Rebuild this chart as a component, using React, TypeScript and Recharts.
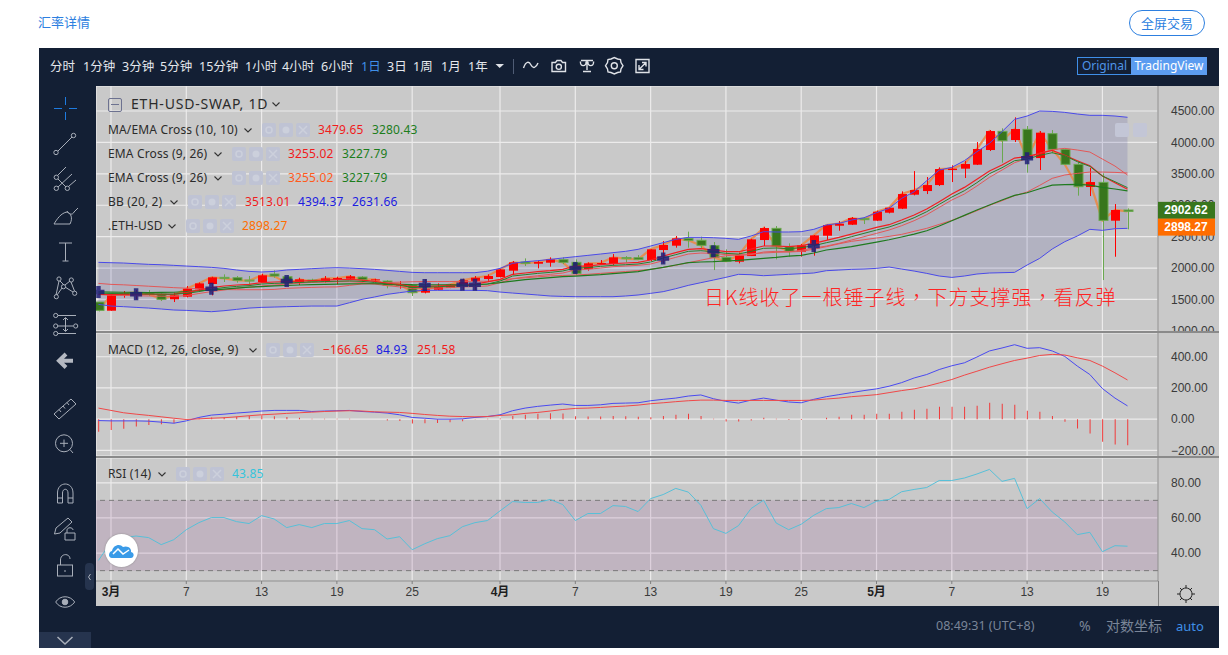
import React from "react";
import {
  Area,
  Bar,
  CartesianGrid,
  ComposedChart,
  Line,
  ReferenceArea,
  ReferenceDot,
  ReferenceLine,
  XAxis,
  YAxis,
} from "recharts";

// first candle sits one day before the "3月" tick
const firstIdx = -1;

const tickIdx = [0, 6, 12, 18, 24, 31, 37, 43, 49, 55, 61, 67, 73, 79];
const tickLabels = ["3月", "7", "13", "19", "25", "4月", "7", "13", "19", "25", "5月", "7", "13", "19"];

const opens = [
  1459, 1321, 1565, 1565, 1608, 1586, 1502, 1544, 1661, 1746,
  1852, 1846, 1809, 1778, 1905, 1862, 1767, 1809, 1788, 1820,
  1830, 1857, 1815, 1793, 1724, 1730, 1608, 1655, 1687, 1714,
  1793, 1825, 1857, 1958, 2096, 2069, 2085, 2133, 2091, 1985,
  2064, 2064, 2165, 2165, 2128, 2287, 2356, 2473, 2441, 2356,
  2170, 2101, 2191, 2446, 2632, 2340, 2260, 2367, 2515, 2674,
  2690, 2791, 2754, 2881, 2945, 3168, 3226, 3321, 3560, 3582,
  3645, 3879, 4176, 4038, 4208, 3751, 4139, 3889, 3651, 3290,
  3364, 2754, 2924,
];
const closes = [
  1326, 1565, 1597, 1608, 1586, 1502, 1565, 1671, 1756, 1852,
  1836, 1804, 1799, 1884, 1873, 1760, 1820, 1788, 1836, 1841,
  1868, 1815, 1820, 1724, 1746, 1608, 1661, 1698, 1735, 1804,
  1846, 1873, 1979, 2091, 2075, 2096, 2138, 2091, 1915, 2075,
  2080, 2170, 2149, 2138, 2298, 2367, 2473, 2441, 2361, 2170,
  2106, 2202, 2457, 2637, 2351, 2266, 2361, 2520, 2685, 2706,
  2796, 2770, 2897, 2961, 3178, 3242, 3321, 3576, 3582, 3656,
  3895, 4181, 4027, 4213, 3746, 4155, 3889, 3651, 3295, 3369,
  2759, 2924, 2902,
];
const highs = [
  1459, 1565, 1634, 1650, 1650, 1618, 1608, 1714, 1770, 1862,
  1900, 1873, 1873, 1910, 1963, 1885, 1846, 1830, 1873, 1862,
  1889, 1873, 1830, 1809, 1793, 1740, 1820, 1756, 1746, 1830,
  1873, 1900, 1985, 2112, 2154, 2112, 2170, 2170, 2138, 2090,
  2128, 2223, 2191, 2207, 2298, 2430, 2510, 2579, 2499, 2414,
  2298, 2245, 2467, 2658, 2669, 2393, 2382, 2526, 2695, 2748,
  2812, 2812, 2913, 2966, 3221, 3544, 3449, 3603, 3635, 3704,
  4006, 4197, 4224, 4399, 4261, 4181, 4197, 3895, 3693, 3592,
  3507, 3019, 2950,
];
const lows = [
  1310, 1321, 1528, 1502, 1555, 1475, 1459, 1533, 1650, 1565,
  1778, 1767, 1740, 1767, 1846, 1720, 1730, 1767, 1767, 1740,
  1809, 1767, 1800, 1677, 1671, 1555, 1597, 1650, 1680, 1650,
  1650, 1785, 1850, 1889, 2032, 1995, 2022, 2064, 1889, 1958,
  2048, 2048, 2091, 2128, 2112, 2075, 2324, 2324, 2314, 1968,
  2096, 2075, 2191, 2351, 2138, 2181, 2181, 2197, 2446, 2594,
  2685, 2701, 2748, 2870, 2939, 3157, 3178, 3306, 3369, 3433,
  3640, 3863, 3677, 4006, 3518, 3560, 3826, 3640, 3152, 3146,
  1809, 2180, 2616,
];

const bbUpper = [
  2091, 2085, 2080, 2069, 2059, 2053, 2043, 2032, 2022, 2011,
  1995, 1969, 1947, 1937, 1947, 1969, 1979, 1990, 2000, 2006,
  2000, 1990, 1979, 1963, 1947, 1931, 1926, 1926, 1926, 1926,
  1926, 1950, 1995, 2075, 2101, 2117, 2138, 2160, 2181, 2202,
  2223, 2245, 2266, 2298, 2351, 2404, 2457, 2489, 2489, 2483,
  2473, 2457, 2510, 2579, 2574, 2574, 2579, 2616, 2685, 2711,
  2764, 2801, 2881, 2950, 3109, 3215, 3390, 3560, 3603, 3709,
  3852, 3985, 4171, 4367, 4420, 4500, 4494, 4478, 4452, 4431,
  4431, 4420, 4400,
];
const bbLower = [
  1422, 1395, 1385, 1374, 1363, 1348, 1332, 1326, 1316, 1305,
  1321, 1342, 1363, 1374, 1379, 1385, 1390, 1395, 1395, 1395,
  1448, 1502, 1539, 1581, 1608, 1634, 1645, 1645, 1645, 1645,
  1645, 1640, 1618, 1602, 1587, 1571, 1555, 1549, 1544, 1544,
  1544, 1544, 1555, 1571, 1597, 1624, 1671, 1724, 1767, 1809,
  1852, 1900, 1894, 1878, 1889, 1900, 1910, 1921, 1958, 1968,
  1979, 1984, 1995, 2016, 1984, 1952, 1915, 1873, 1851, 1873,
  1905, 1921, 1926, 1931, 2048, 2154, 2303, 2419, 2510, 2616,
  2600, 2626, 2632,
];
const bbBasis = [
  1756, 1740, 1733, 1722, 1711, 1700, 1688, 1679, 1669, 1658,
  1658, 1655, 1655, 1655, 1660, 1677, 1685, 1692, 1698, 1700,
  1724, 1746, 1750, 1770, 1775, 1782, 1785, 1785, 1785, 1788,
  1790, 1790, 1810, 1830, 1845, 1860, 1875, 1882, 1889, 1900,
  1915, 1930, 1945, 1960, 1979, 2010, 2045, 2085, 2125, 2165,
  2195, 2215, 2225, 2240, 2250, 2255, 2265, 2300, 2340, 2385,
  2425, 2451, 2478, 2504, 2536, 2584, 2632, 2695, 2759, 2833,
  2913, 2998, 3072, 3152, 3210, 3316, 3428, 3481, 3507, 3528,
  3528, 3523, 3513,
];
const emaFast = [
  1581, 1576, 1581, 1586, 1586, 1581, 1586, 1608, 1650, 1687,
  1714, 1730, 1740, 1767, 1778, 1783, 1793, 1799, 1809, 1815,
  1820, 1809, 1788, 1756, 1735, 1703, 1703, 1714, 1720, 1730,
  1745, 1780, 1820, 1900, 1921, 1942, 1958, 1979, 2032, 2032,
  2053, 2069, 2080, 2091, 2128, 2191, 2245, 2298, 2308, 2287,
  2260, 2260, 2303, 2351, 2351, 2340, 2356, 2393, 2441, 2488,
  2541, 2594, 2647, 2690, 2764, 2844, 2939, 3056, 3178, 3284,
  3412, 3544, 3640, 3751, 3773, 3826, 3873, 3794, 3709, 3629,
  3465, 3359, 3255,
];
const emaTen = [
  1600, 1595, 1592, 1590, 1588, 1586, 1585, 1595, 1625, 1660,
  1690, 1708, 1720, 1745, 1756, 1762, 1770, 1778, 1785, 1790,
  1795, 1788, 1770, 1745, 1725, 1692, 1695, 1702, 1712, 1720,
  1728, 1745, 1793, 1873, 1894, 1915, 1931, 1953, 2000, 2006,
  2027, 2043, 2053, 2064, 2096, 2160, 2213, 2266, 2276, 2260,
  2234, 2223, 2266, 2314, 2319, 2308, 2324, 2356, 2403, 2446,
  2499, 2552, 2605, 2653, 2722, 2801, 2897, 3014, 3130, 3231,
  3359, 3502, 3597, 3709, 3735, 3794, 3836, 3789, 3693, 3619,
  3465, 3375, 3280,
];
const maTen = [
  1580, 1570, 1565, 1560, 1555, 1552, 1550, 1560, 1595, 1625,
  1650, 1680, 1695, 1715, 1730, 1745, 1760, 1770, 1775, 1780,
  1782, 1770, 1745, 1720, 1700, 1670, 1675, 1680, 1690, 1700,
  1705, 1715, 1767, 1830, 1857, 1878, 1900, 1921, 1969, 1979,
  2000, 2022, 2032, 2043, 2064, 2117, 2170, 2223, 2239, 2234,
  2213, 2202, 2213, 2255, 2266, 2260, 2282, 2319, 2350, 2393,
  2446, 2499, 2552, 2605, 2674, 2754, 2849, 2966, 3083, 3178,
  3306, 3444, 3560, 3677, 3746, 3826, 3884, 3905, 3879, 3847,
  3735, 3624, 3480,
];
const emaSlow = [
  1620, 1618, 1615, 1612, 1610, 1612, 1615, 1625, 1640, 1650,
  1665, 1680, 1695, 1705, 1715, 1722, 1730, 1735, 1740, 1745,
  1748, 1750, 1750, 1745, 1742, 1735, 1733, 1732, 1733, 1735,
  1738, 1746, 1767, 1793, 1815, 1831, 1847, 1862, 1873, 1884,
  1894, 1910, 1926, 1942, 1979, 2011, 2048, 2085, 2096, 2101,
  2112, 2122, 2138, 2154, 2170, 2191, 2202, 2239, 2287, 2313,
  2340, 2377, 2414, 2451, 2494, 2541, 2594, 2669, 2754, 2839,
  2923, 3003, 3083, 3157, 3199, 3263, 3321, 3327, 3332, 3321,
  3284, 3258, 3228,
];

// EMA cross markers
const crossIdx = [-1, 2, 8, 14, 25, 28, 29, 37, 44, 48, 56, 73];
const crossPrice = [1618, 1581, 1671, 1793, 1730, 1735, 1735, 2000, 2154, 2266, 2350, 3746];

const macdLine = [
  -9, -11, -11, -11, -13, -19, -26, -11, 11, 26,
  32, 39, 45, 52, 56, 56, 56, 49, 52, 54,
  56, 49, 45, 39, 28, 11, 6, 0, 0, 2,
  11, 17, 28, 54, 71, 82, 90, 97, 88, 88,
  92, 101, 103, 105, 118, 127, 135, 148, 155, 131,
  114, 103, 122, 135, 122, 110, 105, 127, 144, 157,
  170, 183, 194, 211, 234, 264, 286, 318, 342, 361,
  398, 437, 456, 477, 454, 458, 437, 402, 340, 286,
  196, 135, 85,
];
const signalLine = [
  71, 56, 41, 32, 24, 15, 6, -2, 2, 6,
  9, 15, 22, 28, 32, 37, 41, 45, 49, 52,
  54, 52, 47, 45, 43, 37, 30, 24, 19, 17,
  15, 17, 24, 28, 37, 43, 52, 62, 69, 71,
  75, 80, 84, 90, 99, 105, 112, 118, 122, 122,
  120, 120, 120, 120, 120, 120, 120, 122, 129, 135,
  144, 150, 157, 170, 183, 194, 211, 232, 254, 282,
  307, 333, 355, 376, 391, 408, 415, 411, 393, 376,
  340, 297, 251,
];
const histogram = [
  -80, -69, -62, -47, -37, -32, -26, -2, 6, 10,
  13, 17, 21, 25, 19, 14, 9, 3, 2, 2,
  2, 0, 0, -9, -11, -28, -26, -24, -19, -13,
  -2, 2, 4, 21, 28, 34, 38, 36, 19, 17,
  17, 21, 19, 15, 13, 21, 28, 34, 21, 2,
  -15, -15, -9, 9, 2, -6, -6, 0, 9, 15,
  28, 28, 34, 34, 47, 60, 67, 80, 80, 80,
  86, 105, 99, 92, 54, 47, 21, -17, -60, -92,
  -144, -163, -167,
];

const rsiValues = [
  35.8, 46.3, 48.8, 49.7, 48.8, 44.8, 47.6, 53.3, 57.3, 60.2,
  60.2, 57.9, 56.8, 61.3, 59.4, 54.5, 56.2, 54.5, 56.8, 56.8,
  58.5, 53.9, 53.3, 48, 49.3, 41.9, 45.3, 48.2, 49.9, 55,
  57.3, 58.5, 64, 69.3, 68.8, 68.8, 70.5, 67.6, 58.5, 62.5,
  62.5, 67, 66.5, 63.6, 71, 73.3, 76.8, 74.7, 67.2, 53.9,
  51.2, 55.6, 65.3, 70.1, 57.1, 53.3, 56.4, 61.5, 65.3, 65.9,
  68.2, 65.9, 69.5, 70.5, 74.9, 76.2, 77.3, 81.3, 81.3, 82.7,
  85, 87.6, 80.8, 82.5, 65.3, 71, 63.4, 57.7, 50.5, 51.8,
  40.8, 44.2, 43.9,
];

const priceTicks = [1000, 1500, 2000, 2500, 3000, 3500, 4000, 4500];
const macdTicks = [-200, 0, 200, 400];
const rsiTicks = [40, 60, 80];

const toolbarLabels = ["分时", "1分钟", "3分钟", "5分钟", "15分钟", "1小时", "4小时", "6小时", "1日", "3日", "1周", "1月", "1年"];
const toolbarLefts = [50, 83, 122, 160, 199, 245, 282, 321, 361, 387, 413, 441, 468];

const rows = opens.map((open, i) => ({
  idx: i + firstIdx,
  open,
  close: closes[i],
  high: highs[i],
  low: lows[i],
  range: [lows[i], highs[i]],
  band: [bbLower[i], bbUpper[i]],
  bbUpper: bbUpper[i],
  bbLower: bbLower[i],
  bbBasis: bbBasis[i],
  emaFast: emaFast[i],
  emaTen: emaTen[i],
  maTen: maTen[i],
  emaSlow: emaSlow[i],
  cross: crossIdx.includes(i + firstIdx) ? crossPrice[crossIdx.indexOf(i + firstIdx)] : null,
  macd: macdLine[i],
  signal: signalLine[i],
  hist: histogram[i],
  rsi: rsiValues[i],
}));

const GRID = "#ecebeb";
const AXIS = "#7f7f7f";
const XDOMAIN: [number, number] = [-1.195, 83.43];
const PRICE_DOMAIN: [number, number] = [982, 4898];
const axisFont = { fontFamily: "Liberation Sans, Arial, sans-serif", fontSize: 12, fill: "#3a3a3a" };
const uiFont = "'Noto Sans', 'Noto Sans CJK SC', sans-serif";
const thin = { dot: false, activeDot: false, isAnimationActive: false, type: "linear" as const, strokeWidth: 1 };

const Candle = (props: any) => {
  const { x, y, width, height, payload } = props;
  const span = payload.high - payload.low || 1;
  const toY = (v: number) => y + ((payload.high - v) / span) * height;
  const up = payload.close >= payload.open;
  const top = toY(Math.max(payload.open, payload.close));
  const bottom = toY(Math.min(payload.open, payload.close));
  const cx = Math.round(x + width / 2);
  const wick = up ? "#ff0000" : "#6aa84f";
  return (
    <g>
      <line x1={cx + 0.5} x2={cx + 0.5} y1={y} y2={y + height} stroke={wick} />
      <rect
        x={cx - 4}
        y={top}
        width={9}
        height={Math.max(bottom - top, 1)}
        fill={up ? "#ff0000" : "#38761d"}
        stroke={up ? "#ff0000" : "#6aa84f"}
        strokeWidth={up ? 0 : 1}
      />
    </g>
  );
};

const CrossDot = (props: any) => {
  const { cx, cy, value, index } = props;
  if (value == null || cy == null) return <g key={index} />;
  return (
    <path
      key={index}
      d={`M${cx - 6} ${cy}H${cx + 6}M${cx} ${cy - 6}V${cy + 6}`}
      stroke="#1f1f78"
      strokeOpacity={0.85}
      strokeWidth={4.5}
      fill="none"
    />
  );
};

const PriceTag = (props: any) => {
  const { cx, cy, fill, text, shift } = props;
  return (
    <g>
      <rect x={cx} y={cy + shift - 8.5} width={57} height={17} fill={fill} />
      <text
        x={cx + 28}
        y={cy + shift + 4}
        textAnchor="middle"
        fontFamily="Liberation Sans, Arial, sans-serif"
        fontSize={12}
        fontWeight={700}
        fill="#ffffff"
      >
        {text}
      </text>
    </g>
  );
};

const TimeTick = (props: any) => {
  const { x, y, payload } = props;
  const label = tickLabels[tickIdx.indexOf(payload.value)];
  const month = label.includes("月");
  return (
    <text
      x={x}
      y={y + 10}
      textAnchor="middle"
      fontFamily="'Liberation Sans', 'Noto Sans CJK SC', sans-serif"
      fontSize={12}
      fontWeight={month ? 700 : 400}
      fill={month ? "#1e1e1e" : "#3a3a3a"}
    >
      {label}
    </text>
  );
};

const Faint = ({ left, top }: { left: number; top: number }) => (
  <svg width={48} height={14} style={{ position: "absolute", left, top }}>
    {[0, 17, 34].map((d) => (
      <rect key={d} x={d} width={14} height={14} rx={2} fill="#bfc3d4" />
    ))}
    <circle cx={7} cy={7} r={3} fill="none" stroke="#ccd0dc" strokeWidth={1.5} />
    <circle cx={24} cy={7} r={3.5} fill="#ccd0dc" />
    <path d="M37 3L45 11M45 3L37 11" stroke="#ccd0dc" strokeWidth={1.5} />
  </svg>
);

const T = ({ left, top, color = "#2b2b2b", size = 12, children, extra }: any) => (
  <div
    style={{
      position: "absolute",
      left,
      top,
      color,
      fontSize: size,
      lineHeight: "16px",
      whiteSpace: "nowrap",
      fontFamily: uiFont,
      ...extra,
    }}
  >
    {children}
  </div>
);

const Chev = ({ left, top }: { left: number; top: number }) => (
  <svg width={8} height={5} style={{ position: "absolute", left, top }}>
    <path d="M0.5 0.5L4 4L7.5 0.5" fill="none" stroke="#333333" strokeWidth={1.1} />
  </svg>
);

const spaced = { letterSpacing: 0.15 };

const Legends = () => (
  <>
    <div style={{ position: "absolute", left: 108, top: 98, width: 12, height: 12, border: "1px solid #6d7290", borderRadius: 2 }}>
      <div style={{ margin: "5px 2px", height: 1, background: "#6d7290" }} />
    </div>
    <T left={131} top={96} size={14} extra={{ letterSpacing: 0.8 }}>ETH-USD-SWAP, 1D</T>
    <Chev left={272} top={102} />

    <T left={108} top={122} extra={spaced}>MA/EMA Cross (10, 10)</T>
    <Chev left={244} top={128} />
    <Faint left={262} top={123} />
    <T left={318} top={122} color="#f01c1c" extra={spaced}>3479.65</T>
    <T left={372} top={122} color="#1c7d1c" extra={spaced}>3280.43</T>

    <T left={108} top={146} extra={spaced}>EMA Cross (9, 26)</T>
    <Chev left={214} top={152} />
    <Faint left={232} top={147} />
    <T left={288} top={146} color="#f01c1c" extra={spaced}>3255.02</T>
    <T left={342} top={146} color="#1c7d1c" extra={spaced}>3227.79</T>

    <T left={108} top={170} extra={spaced}>EMA Cross (9, 26)</T>
    <Chev left={214} top={176} />
    <Faint left={232} top={171} />
    <T left={288} top={170} color="#ff5a1c" extra={spaced}>3255.02</T>
    <T left={342} top={170} color="#1c7d1c" extra={spaced}>3227.79</T>

    <T left={108} top={194} extra={spaced}>BB (20, 2)</T>
    <Chev left={170} top={200} />
    <Faint left={188} top={195} />
    <T left={245} top={194} color="#f01c1c" extra={spaced}>3513.01</T>
    <T left={298} top={194} color="#2020e0" extra={spaced}>4394.37</T>
    <T left={352} top={194} color="#2020e0" extra={spaced}>2631.66</T>

    <T left={108} top={218} extra={spaced}>.ETH-USD</T>
    <Chev left={168} top={224} />
    <Faint left={186} top={219} />
    <T left={242} top={218} color="#ff6d00" extra={spaced}>2898.27</T>

    <T left={108} top={342} extra={spaced}>MACD (12, 26, close, 9)</T>
    <Chev left={249} top={348} />
    <Faint left={266} top={343} />
    <T left={323} top={342} color="#f01c1c" extra={spaced}>−166.65</T>
    <T left={376} top={342} color="#2020e0" extra={spaced}>84.93</T>
    <T left={417} top={342} color="#f01c1c" extra={spaced}>251.58</T>

    <T left={108} top={466} extra={spaced}>RSI (14)</T>
    <Chev left={158} top={472} />
    <Faint left={176} top={467} />
    <T left={232} top={466} color="#35c4dc" extra={spaced}>43.85</T>

    <div style={{ position: "absolute", left: 1115, top: 123, width: 14, height: 14, background: "#c3c6d6", borderRadius: 2 }} />
    <div style={{ position: "absolute", left: 1133, top: 123, width: 14, height: 14, background: "#c3c6d6", borderRadius: 2 }} />

    <T
      left={704}
      top={285}
      size={20}
      color="#ff2424"
      extra={{ letterSpacing: 1, lineHeight: "24px", fontFamily: "'Noto Sans CJK SC', sans-serif", fontWeight: 300 }}
    >
      日K线收了一根锤子线<span style={{ fontFamily: "'Noto Sans CJK TC', sans-serif" }}>，</span>下方支撑强
      <span style={{ fontFamily: "'Noto Sans CJK TC', sans-serif" }}>，</span>看反弹
    </T>
  </>
);

// toolbar and drawing-tool glyphs, all of it page furniture
const Chrome = () => (
  <svg width={1228} height={655} style={{ position: "absolute", left: 0, top: 0 }} fill="none" stroke="#a9afba" strokeWidth={1}>
    <path d="M54 108.5H62M69 108.5H77M65.5 97V105M65.5 112V120" stroke="#1e7be0" />

    <path d="M58 151L72 137" />
    <circle cx={56} cy={152.5} r={2.2} />
    <circle cx={73.5} cy={135.5} r={2.2} />

    <path d="M58 175L66 167M58 187L72 174M69 186L76 180M58 179L66 187" />
    <circle cx={56.3} cy={177.3} r={2.2} />
    <circle cx={56.3} cy={188.3} r={2.2} />
    <circle cx={67.3} cy={188.3} r={2.2} />

    <path d="M54 224H70C73 218 71 213 67 212C61 213 57 219 54 224ZM67 211C69 215 73 215 74 212L78 208" />

    <path d="M59 243H72M65.5 243V261M62.5 261H68.5" />

    <path d="M59 281L56 295M71 282L74.5 291M60 281L64 285M70 281L65 285M62 288L57 295M65 287L73 292" />
    <circle cx={59} cy={279} r={2.1} />
    <circle cx={71.3} cy={280} r={2.1} />
    <circle cx={63.5} cy={286.7} r={2.1} />
    <circle cx={56.3} cy={296.7} r={2.1} />
    <circle cx={74.7} cy={293.3} r={2.1} />

    <path d="M58 315.5H76M58 326H73M58 333.5H76M65.5 318V331M63 320L65.5 317.5L68 320M63 329L65.5 331.5L68 329" />
    <circle cx={55.7} cy={315.5} r={2.1} />
    <circle cx={55.7} cy={326} r={2.1} />
    <circle cx={75.7} cy={326} r={2.1} />
    <circle cx={55.7} cy={333.5} r={2.1} />

    <path d="M73 360.7H60M66 354L59 360.7L66 367.5" stroke="#b4b8c1" strokeWidth={4} />

    <path d="M54 414L71 399L76 404L59 419ZM59 409.5L61 412M63 406L65 408.5M67 402.5L69 405" />

    <circle cx={64} cy={443.3} r={8.5} />
    <path d="M70 449.5L73 453M60 443.3H68M64 439.5V447" />

    <path d="M57.5 503V493C57.5 481 73 481 73 493V503H68V493C68 488 62.5 488 62.5 493V503ZM57.5 498H62.5M68 498H73" />

    <path d="M54.5 534L56 528L68 518L72 522L60 533ZM65 540H75V533H65ZM67 533V530C67 527 73 527 73 530" />

    <rect x={57.5} y={565} width={15} height={11} />
    <path d="M60.5 565V560C60.5 553 70 553 70 559M65 570V572" />

    <path d="M55.7 602C60 595 70 595 74.7 602C70 609 60 609 55.7 602Z" />
    <circle cx={65} cy={602} r={2.8} fill="#a9afba" />

    <path d="M57.5 637L65 644L72.5 637" strokeWidth={1.5} />
    <path d="M90.5 574L88.5 577L90.5 580" />

    <g stroke="#dfe2e7" strokeWidth={1.4}>
      <path d="M523.5 68C526 61 529 61 531 65C533 69 536 68 538 63" />
      <path d="M552 62.5H555.5L557 60.5H561L562.5 62.5H565.5V71.5H552Z" />
      <circle cx={558.8} cy={66.8} r={2.6} />
      <path d="M581 60.5H593M587 60V70M583 71.5H591M580.5 61.5C579.5 67 587 67 586 61.5M588 61.5C587 67 594.5 67 593.5 61.5" />
      <circle cx={614.3} cy={65.7} r={3} />
      <path d="M611 59L614.3 57.5L617.6 59L620.5 59.5L621 62.5L623 65.7L621 69L620.5 72L617.6 72.5L614.3 74L611 72.5L608 72L607.5 69L605.5 65.7L607.5 62.5L608 59.5Z" />
      <path d="M636 59.5H649V72.5H636ZM639.5 69L645.5 63M642 62.5H646V66.5M639 65V69.5H643.5" />
    </g>
    <path d="M513.5 59V74" stroke="#4f5c75" />
    <path d="M495.5 64H504L499.7 68Z" fill="#dfe2e7" stroke="none" />
    <path d="M1186 588A6 6 0 1 0 1186.01 588M1186 585V588M1186 600V603M1177 594H1180M1192 594H1195M1180 588L1182 590M1190 598L1192 600M1192 588L1190 590M1182 598L1180 600" stroke="#222222" />
  </svg>
);

export default function App() {
  return (
    <div style={{ position: "absolute", left: 0, top: 0, width: 1228, height: 655, background: "#ffffff", overflow: "hidden" }}>
      <T left={38} top={14} size={13} color="#2d7fe0">汇率详情</T>
      <div
        style={{
          position: "absolute",
          left: 1129,
          top: 10,
          width: 74,
          height: 24,
          border: "1px solid #2d7fe0",
          borderRadius: 13,
          color: "#2d7fe0",
          fontSize: 13,
          lineHeight: "24px",
          textAlign: "center",
          fontFamily: uiFont,
        }}
      >
        全屏交易
      </div>

      <div style={{ position: "absolute", left: 39, top: 48, width: 1180, height: 600, background: "#131f34" }} />
      <div style={{ position: "absolute", left: 96, top: 86, width: 1123, height: 520, background: "#c9c9c9" }} />

      {toolbarLabels.map((label, i) => (
        <T key={i} left={toolbarLefts[i]} top={59} color={label === "1日" ? "#3f8fe8" : "#e4e7ec"} size={12.5}>
          {label}
        </T>
      ))}
      <div
        style={{
          position: "absolute",
          left: 1077,
          top: 57,
          width: 53,
          height: 16,
          border: "1px solid #3f8fe8",
          color: "#4f94e8",
          fontSize: 12,
          lineHeight: "16px",
          textAlign: "center",
          fontFamily: uiFont,
        }}
      >
        Original
      </div>
      <div
        style={{
          position: "absolute",
          left: 1131,
          top: 57,
          width: 76,
          height: 18,
          background: "#5b9cf0",
          color: "#ffffff",
          fontSize: 12,
          lineHeight: "18px",
          textAlign: "center",
          fontFamily: uiFont,
        }}
      >
        TradingView
      </div>

      <div style={{ position: "absolute", left: 39, top: 632, width: 52, height: 16, background: "#26344e" }} />
      <div style={{ position: "absolute", left: 85, top: 563, width: 9, height: 27, background: "#26344e", borderRadius: 4 }} />

      <T left={936} top={618} color="#7a8598" size={12.5}>08:49:31 (UTC+8)</T>
      <T left={1079} top={618} color="#7a8598" size={14}>%</T>
      <T left={1106} top={618} color="#7a8598" size={14}>对数坐标</T>
      <T left={1176} top={618} color="#3f8fe8" size={13}>auto</T>

      {/* price pane */}
      <div style={{ position: "absolute", left: 96, top: 86 }}>
        <ComposedChart width={1123} height={246} data={rows} margin={{ top: 0, right: 0, bottom: 0, left: 0 }}>
          <CartesianGrid stroke={GRID} strokeWidth={1.2} />
          <XAxis dataKey="idx" type="number" domain={XDOMAIN} ticks={tickIdx} allowDataOverflow hide />
          <YAxis
            orientation="right"
            width={61}
            type="number"
            domain={PRICE_DOMAIN}
            allowDataOverflow
            ticks={priceTicks}
            interval={0}
            tick={axisFont}
            tickLine={false}
            axisLine={{ stroke: AXIS }}
            tickMargin={7}
            tickFormatter={(v: number) => v.toFixed(2)}
          />
          <Area dataKey="band" stroke="none" fill="#3c3c99" fillOpacity={0.16} dot={false} activeDot={false} isAnimationActive={false} type="linear" />
          <Area dataKey="close" stroke="#ea8a48" strokeWidth={2.2} strokeOpacity={0.9} fill="none" dot={false} activeDot={false} isAnimationActive={false} type="linear" />
          <Line dataKey="bbUpper" stroke="#4a4ae8" {...thin} />
          <Line dataKey="bbLower" stroke="#4a4ae8" {...thin} />
          <Bar dataKey="range" shape={Candle} barSize={9} isAnimationActive={false} />
          <Line dataKey="bbBasis" stroke="#e25858" {...thin} />
          <Line dataKey="maTen" stroke="#e25858" {...thin} />
          <Line dataKey="emaSlow" stroke="#1f7a1f" {...thin} strokeWidth={1.2} />
          <Line dataKey="emaFast" stroke="#f02020" {...thin} strokeWidth={1.2} />
          <Line dataKey="emaTen" stroke="#2a7d2a" {...thin} />
          <Line dataKey="cross" stroke="none" isAnimationActive={false} activeDot={false} dot={CrossDot} />
        </ComposedChart>
      </div>
      <div style={{ position: "absolute", left: 96, top: 331, width: 1123, height: 2, background: "#8a8a8a" }} />

      {/* macd pane */}
      <div style={{ position: "absolute", left: 96, top: 333, background: "#c9c9c9", height: 123 }}>
        <ComposedChart width={1123} height={123} data={rows} margin={{ top: 0, right: 0, bottom: 0, left: 0 }}>
          <CartesianGrid stroke={GRID} strokeWidth={1.2} />
          <XAxis dataKey="idx" type="number" domain={XDOMAIN} ticks={tickIdx} allowDataOverflow hide />
          <YAxis
            orientation="right"
            width={61}
            type="number"
            domain={[-236, 552]}
            allowDataOverflow
            ticks={macdTicks}
            interval={0}
            tick={axisFont}
            tickLine={false}
            axisLine={{ stroke: AXIS }}
            tickMargin={7}
            tickFormatter={(v: number) => (v < 0 ? "−" + Math.abs(v).toFixed(2) : v.toFixed(2))}
          />
          <Bar dataKey="hist" fill="#f03a3a" barSize={1} isAnimationActive={false} />
          <Line dataKey="macd" stroke="#4a4af0" {...thin} />
          <Line dataKey="signal" stroke="#f04848" {...thin} />
        </ComposedChart>
      </div>
      <div style={{ position: "absolute", left: 96, top: 456, width: 1123, height: 2, background: "#8a8a8a" }} />

      {/* rsi pane with the time axis */}
      <div style={{ position: "absolute", left: 96, top: 458 }}>
        <ComposedChart width={1123} height={148} data={rows} margin={{ top: 0, right: 0, bottom: 0, left: 0 }}>
          <CartesianGrid stroke={GRID} strokeWidth={1.2} />
          <XAxis
            dataKey="idx"
            type="number"
            domain={XDOMAIN}
            ticks={tickIdx}
            allowDataOverflow
            height={25}
            tick={<TimeTick />}
            tickSize={3}
            stroke={AXIS}
            interval={0}
          />
          <YAxis
            orientation="right"
            width={61}
            type="number"
            domain={[24.1, 94.1]}
            allowDataOverflow
            ticks={rsiTicks}
            interval={0}
            tick={axisFont}
            tickLine={false}
            axisLine={{ stroke: AXIS }}
            tickMargin={7}
            tickFormatter={(v: number) => v.toFixed(2)}
          />
          <ReferenceArea y1={30} y2={70} fill="#8d3c8d" fillOpacity={0.15} stroke="none" />
          <ReferenceLine y={70} stroke="#7a7a7a" strokeDasharray="5 4" />
          <ReferenceLine y={30} stroke="#7a7a7a" strokeDasharray="5 4" />
          <Line dataKey="rsi" stroke="#58c0d8" {...thin} />
        </ComposedChart>
      </div>
      <div style={{ position: "absolute", left: 1158, top: 581, width: 1, height: 25, background: AXIS }} />

      {/* last-price tags, a second chart on the same scales so they cover the axis labels */}
      <div style={{ position: "absolute", left: 96, top: 86 }}>
        <ComposedChart width={1123} height={246} data={rows} margin={{ top: 0, right: 0, bottom: 0, left: 0 }}>
          <XAxis dataKey="idx" type="number" domain={XDOMAIN} allowDataOverflow hide />
          <YAxis orientation="right" width={61} type="number" domain={PRICE_DOMAIN} allowDataOverflow tick={false} axisLine={false} tickLine={false} />
          <ReferenceDot
            x={XDOMAIN[1]}
            y={2902.62}
            ifOverflow="visible"
            shape={(p: any) => <PriceTag {...p} fill="#38761d" text="2902.62" shift={-1} />}
          />
          <ReferenceDot
            x={XDOMAIN[1]}
            y={2898.27}
            ifOverflow="visible"
            shape={(p: any) => <PriceTag {...p} fill="#ff6d00" text="2898.27" shift={15.5} />}
          />
        </ComposedChart>
      </div>

      <div
        style={{
          position: "absolute",
          left: 105,
          top: 534,
          width: 33,
          height: 33,
          borderRadius: 17,
          background: "#ffffff",
          boxShadow: "0 0 2px #888888",
        }}
      >
        <svg width={33} height={33}>
          <path d="M7 24C3 24 3 18 7 17C8 11 15 9 18 13C23 11 27 15 26 18C30 19 29 24 26 24Z" fill="#3a9be8" />
          <path d="M8 20L13 15L18 20L24 16" stroke="#ffffff" strokeWidth={1.5} fill="none" />
        </svg>
      </div>

      <Legends />
      <Chrome />
    </div>
  );
}
